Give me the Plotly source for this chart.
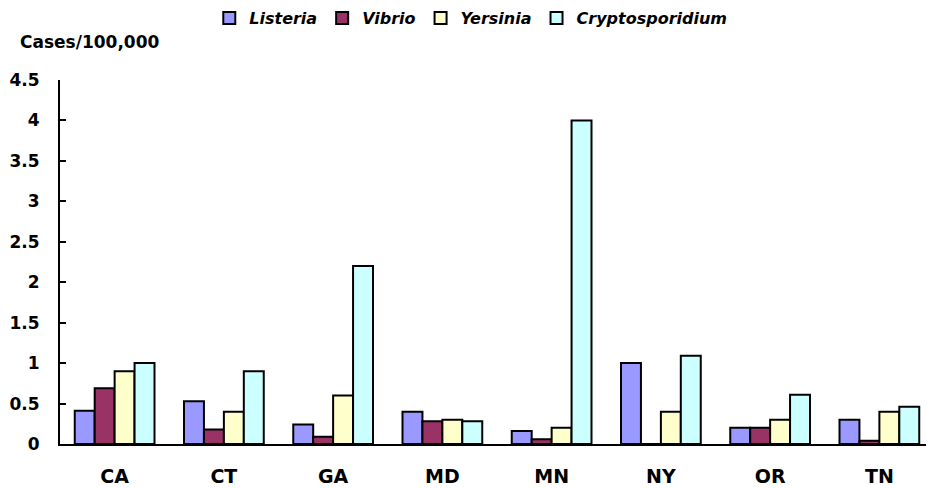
import plotly.graph_objects as go

# datos
states = ['CA', 'CT', 'GA', 'MD', 'MN', 'NY', 'OR', 'TN']
listeria = [0.41, 0.53, 0.24, 0.40, 0.16, 1.0, 0.20, 0.30]
vibrio = [0.69, 0.18, 0.09, 0.28, 0.06, 0.0, 0.20, 0.04]
yersinia = [0.90, 0.40, 0.60, 0.30, 0.20, 0.40, 0.30, 0.40]
crypto = [1.0, 0.90, 2.2, 0.28, 4.0, 1.09, 0.61, 0.46]
y_ticks = [0, 0.5, 1, 1.5, 2, 2.5, 3, 3.5, 4, 4.5]

FONT = 'DejaVu Sans, Arial, sans-serif'

series = [
    ('Listeria', listeria, '#9999FF'),
    ('Vibrio', vibrio, '#993366'),
    ('Yersinia', yersinia, '#FFFFCC'),
    ('Cryptosporidium', crypto, '#CCFFFF'),
]

fig = go.Figure()
for nombre, vals, color in series:
    fig.add_trace(go.Bar(
        x=states, y=vals, name=nombre,
        marker=dict(color=color, line=dict(color='black', width=2)),
    ))

# la página tiene 8px de margen en body, por eso 926x480
fig.update_layout(
    width=926, height=480,
    margin=dict(l=52, r=0, t=72, b=44),
    paper_bgcolor='white', plot_bgcolor='white',
    barmode='group', bargap=0.27, bargroupgap=0,
    font=dict(family=FONT, size=17, color='black'),
    legend=dict(
        orientation='h', x=0.47, xanchor='center', y=0.979, yanchor='middle',
        yref='container', font=dict(size=16, style='italic', weight='bold'),
        itemwidth=30, tracegroupgap=0, borderwidth=0,
    ),
    xaxis=dict(
        showline=True, linecolor='black', linewidth=2, ticks='',
        tickfont=dict(size=19, weight='bold'), showgrid=False,
        ticklabelstandoff=14, automargin=False,
    ),
    yaxis=dict(
        range=[0, 4.5], tickvals=y_ticks, ticktext=[f'{v:g}' for v in y_ticks],
        showline=True, linecolor='black', linewidth=2,
        ticks='inside', ticklen=6, tickwidth=2, tickcolor='black',
        tickfont=dict(size=17, weight='bold'), showgrid=False, zeroline=False,
        ticklabelstandoff=15, automargin=False,
    ),
    annotations=[dict(
        text='Cases/100,000', xref='paper', yref='paper', x=-0.048, y=1.104,
        xanchor='left', yanchor='middle', showarrow=False,
        font=dict(size=17, weight='bold'),
    )],
)

fig.write_html('out.html')
